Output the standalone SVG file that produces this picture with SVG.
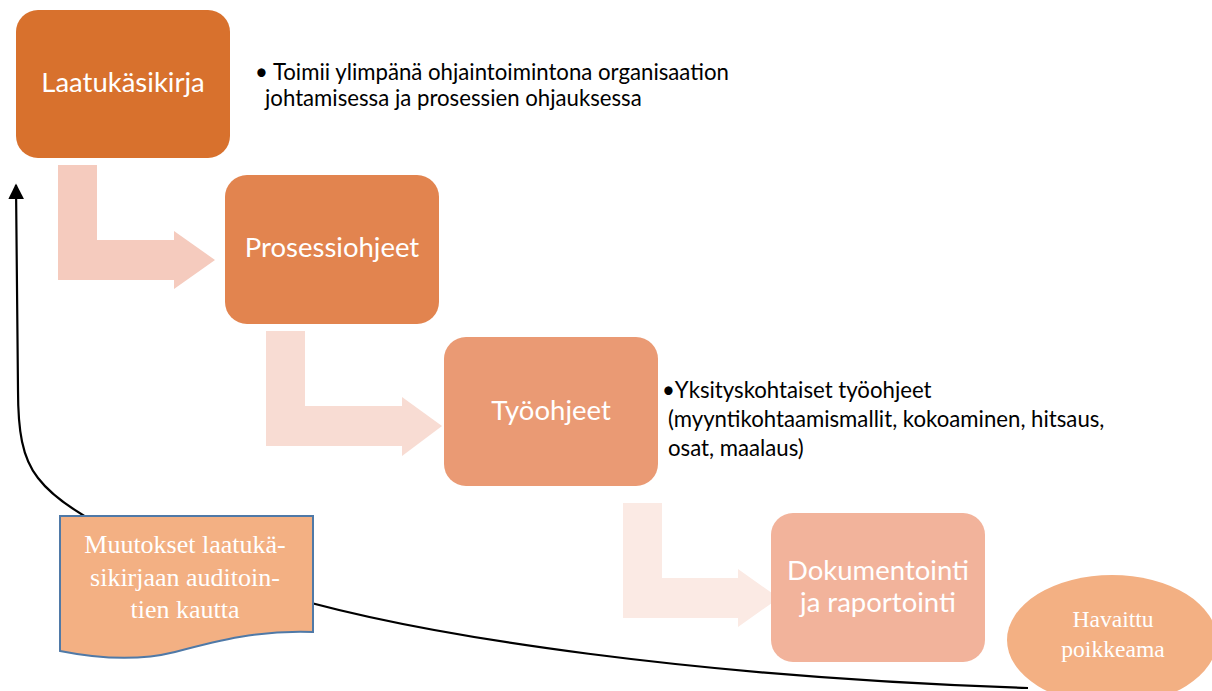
<svg xmlns="http://www.w3.org/2000/svg" width="1212" height="691" viewBox="0 0 1212 691">
  <style>
    .box-label { font-family: Lato, "Open Sans", "Liberation Sans", sans-serif; font-size: 27.5px; fill: #ffffff; text-anchor: middle; }
    .note { font-family: Lato, "Open Sans", "Liberation Sans", sans-serif; font-size: 22.2px; fill: #000000; }
    .doc-label { font-family: "Liberation Serif", "Times New Roman", serif; font-size: 26px; fill: #ffffff; text-anchor: middle; }
    .oval-label { font-family: "Liberation Serif", "Times New Roman", serif; font-size: 23.6px; fill: #ffffff; text-anchor: middle; }
    .flow { stroke: #000000; stroke-width: 2.2; fill: none; }
  </style>
  <defs>
    <marker id="arrowhead" viewBox="0 0 10 10" refX="9" refY="5" markerWidth="16" markerHeight="16" markerUnits="userSpaceOnUse" orient="auto">
      <path d="M0,0 L10,5 L0,10 Z" fill="#000000"/>
    </marker>
  </defs>

  <rect width="1212" height="691" fill="#ffffff"/>

  <!-- bent step arrows -->
  <g id="step-arrows">
    <path d="M58,165 H97 V240 H174 V231 L215,260 L174,289 V280 H58 Z" fill="#F5CBBE"/>
    <path d="M266,331 H305 V406 H402 V397 L442,426 L402,456 V446 H266 Z" fill="#F8DCD3"/>
    <path d="M623,503 H662 V578 H738 V569 L779,598 L738,627 V618 H623 Z" fill="#FBEAE4"/>
  </g>

  <!-- feedback loop -->
  <g id="connectors">
    <path class="flow" d="M1028,688 C720,678 420,640 260,588 C160,555 70,520 38,478 C22,458 18,430 18,390 L16,185" marker-end="url(#arrowhead)"/>
  </g>

  <g id="node-laatukasikirja">
    <rect x="16" y="10" width="214" height="148" rx="22" fill="#D8712D"/>
    <text class="box-label" x="123" y="92">Laatukäsikirja</text>
  </g>

  <g id="node-prosessiohjeet">
    <rect x="225" y="175" width="214" height="149" rx="22" fill="#E2844F"/>
    <text class="box-label" x="332" y="257">Prosessiohjeet</text>
  </g>

  <g id="node-tyoohjeet">
    <rect x="444" y="337" width="214" height="149" rx="22" fill="#EA9A74"/>
    <text class="box-label" x="551" y="420">Työohjeet</text>
  </g>

  <g id="node-dokumentointi">
    <rect x="771" y="513" width="214" height="149" rx="22" fill="#F2B39B"/>
    <text class="box-label" x="878" y="580">Dokumentointi</text>
    <text class="box-label" x="878" y="612">ja raportointi</text>
  </g>

  <g id="note-laatukasikirja">
    <text class="note" x="255" y="80">• Toimii ylimpänä ohjaintoimintona organisaation</text>
    <text class="note" x="265" y="106">johtamisessa ja prosessien ohjauksessa</text>
  </g>

  <g id="note-tyoohjeet">
    <text class="note" x="662" y="398">•Yksityskohtaiset työohjeet</text>
    <text class="note" x="668" y="427">(myyntikohtaamismallit, kokoaminen, hitsaus,</text>
    <text class="note" x="668" y="456">osat, maalaus)</text>
  </g>

  <g id="node-muutokset">
    <path d="M60,516 H313 V632 C260,630 220,640 175,652 C135,662 95,658 60,651 Z" fill="#F3B083" stroke="#4F79A7" stroke-width="2"/>
    <text class="doc-label" x="185" y="553">Muutokset laatukä-</text>
    <text class="doc-label" x="185" y="586">sikirjaan auditoin-</text>
    <text class="doc-label" x="185" y="618">tien kautta</text>
  </g>

  <g id="node-havaittu">
    <ellipse cx="1112" cy="640" rx="105" ry="65" fill="#F3B083"/>
    <text class="oval-label" x="1113" y="627">Havaittu</text>
    <text class="oval-label" x="1113" y="657">poikkeama</text>
  </g>
</svg>
